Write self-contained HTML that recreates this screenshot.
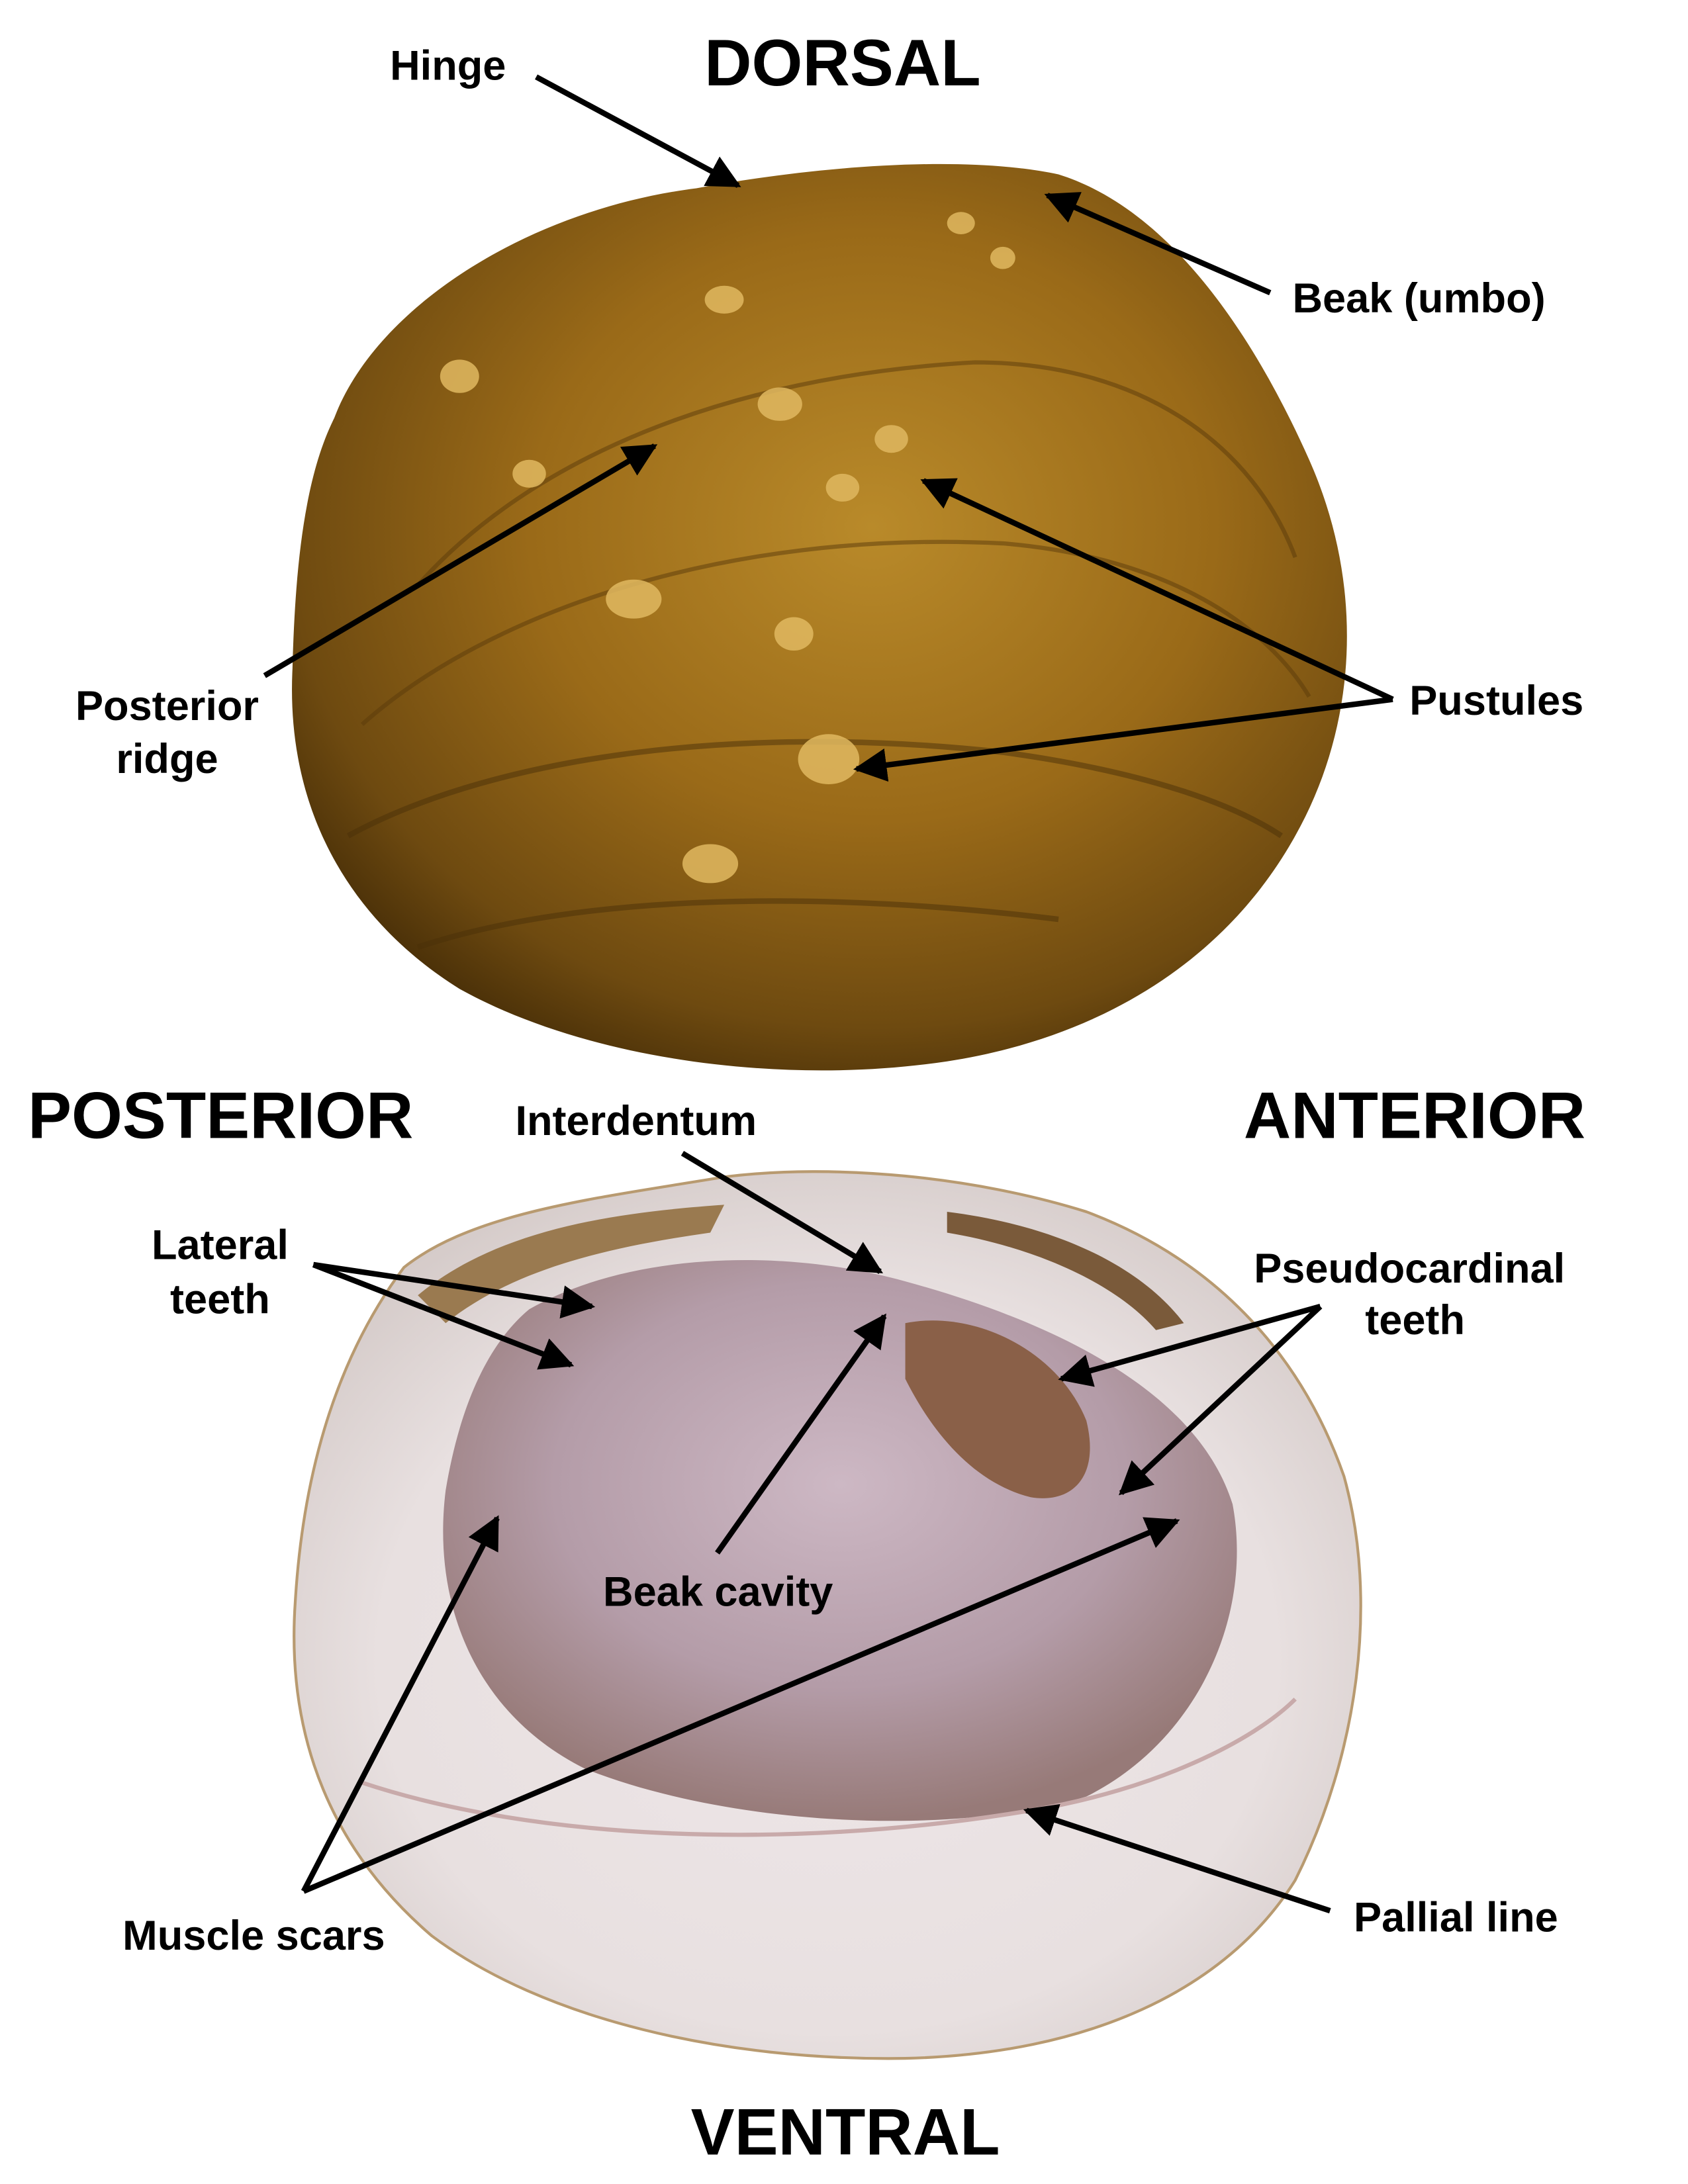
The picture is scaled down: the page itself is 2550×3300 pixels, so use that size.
<!DOCTYPE html>
<html><head><meta charset="utf-8"><style>
html,body{margin:0;padding:0;background:#fff;}
svg{display:block;}
text{font-family:"Liberation Sans",Arial,sans-serif;font-weight:bold;fill:#000;}
</style></head><body>
<svg width="2550" height="3300" viewBox="0 0 1212 1568" xmlns="http://www.w3.org/2000/svg">
<defs>
<radialGradient id="brown" cx="0.55" cy="0.4" r="0.65">
<stop offset="0" stop-color="#b98a2a"/>
<stop offset="0.5" stop-color="#9a6a18"/>
<stop offset="0.85" stop-color="#6e4a10"/>
<stop offset="1" stop-color="#4a3008"/>
</radialGradient>
<radialGradient id="pearl" cx="0.5" cy="0.55" r="0.6">
<stop offset="0" stop-color="#eee6e8"/>
<stop offset="0.7" stop-color="#e8e0e0"/>
<stop offset="1" stop-color="#d4cac8"/>
</radialGradient>
<radialGradient id="purple" cx="0.5" cy="0.4" r="0.6">
<stop offset="0" stop-color="#cdb8c4"/>
<stop offset="0.6" stop-color="#b49ca8"/>
<stop offset="1" stop-color="#977a78"/>
</radialGradient>
<marker id="ah" viewBox="0 0 10 10" refX="9" refY="5" markerWidth="6" markerHeight="6" orient="auto-start-reverse">
<path d="M0,0 L10,5 L0,10 z" fill="#000"/>
</marker>
</defs>
<rect width="1212" height="1568" fill="#fff"/>

<!-- top shell -->
<path d="M240,300 C270,220 380,150 500,135 C580,120 690,110 760,125 C840,150 900,240 940,330 C980,420 975,520 930,600 C880,690 790,745 680,762 C560,780 420,760 330,710 C250,660 205,580 210,480 C212,400 220,340 240,300 Z" fill="url(#brown)"/>
<path d="M300,420 C380,330 520,270 700,260 C820,260 900,320 930,400" fill="none" stroke="#5a3a0a" stroke-width="3" opacity="0.5"/>
<path d="M260,520 C350,440 520,380 720,390 C840,400 910,450 940,500" fill="none" stroke="#5a3a0a" stroke-width="3" opacity="0.5"/>
<path d="M250,600 C360,540 540,520 720,540 C830,555 890,580 920,600" fill="none" stroke="#4a3008" stroke-width="4" opacity="0.5"/>
<path d="M300,680 C420,640 600,640 760,660" fill="none" stroke="#4a3008" stroke-width="4" opacity="0.5"/>
<g fill="#e0b860" opacity="0.85">
<ellipse cx="520" cy="215" rx="14" ry="10"/><ellipse cx="560" cy="290" rx="16" ry="12"/>
<ellipse cx="640" cy="315" rx="12" ry="10"/><ellipse cx="605" cy="350" rx="12" ry="10"/>
<ellipse cx="455" cy="430" rx="20" ry="14"/><ellipse cx="570" cy="455" rx="14" ry="12"/>
<ellipse cx="595" cy="545" rx="22" ry="18"/><ellipse cx="510" cy="620" rx="20" ry="14"/>
<ellipse cx="690" cy="160" rx="10" ry="8"/><ellipse cx="720" cy="185" rx="9" ry="8"/>
<ellipse cx="330" cy="270" rx="14" ry="12"/><ellipse cx="380" cy="340" rx="12" ry="10"/>
</g>

<!-- bottom shell -->
<path d="M290,910 C340,870 430,860 520,845 C600,835 700,845 780,870 C860,900 930,960 965,1060 C990,1150 975,1260 930,1350 C880,1430 780,1475 650,1478 C520,1480 390,1450 310,1390 C240,1330 205,1250 212,1150 C218,1050 245,970 290,910 Z" fill="url(#pearl)" stroke="#b89a70" stroke-width="2"/>
<path d="M380,940 C450,900 560,895 650,920 C760,950 860,1000 885,1080 C900,1160 860,1250 780,1290 C680,1320 520,1310 420,1270 C340,1230 310,1150 320,1070 C330,1010 350,965 380,940 Z" fill="url(#purple)"/>
<path d="M650,950 C700,940 760,970 780,1020 C790,1060 770,1080 740,1075 C700,1065 670,1030 650,990 Z" fill="#8a6048"/>
<path d="M300,930 C360,880 450,870 520,865 L510,885 C440,895 370,910 320,950 Z" fill="#9a7a50"/>
<path d="M680,870 C760,880 820,910 850,950 L830,955 C800,920 740,895 680,885 Z" fill="#7a5a3a"/>
<path d="M260,1280 C380,1320 560,1330 740,1300 C830,1285 900,1250 930,1220" fill="none" stroke="#c8aaaa" stroke-width="3"/>

<!-- labels -->
<text x="605" y="61" font-size="47" text-anchor="middle">DORSAL</text>
<text x="280" y="57" font-size="30">Hinge</text>
<text x="928" y="224" font-size="30">Beak (umbo)</text>
<text x="120" y="517" font-size="30" text-anchor="middle">Posterior</text>
<text x="120" y="555" font-size="30" text-anchor="middle">ridge</text>
<text x="1012" y="513" font-size="30">Pustules</text>
<text x="20" y="817" font-size="47">POSTERIOR</text>
<text x="893" y="817" font-size="47">ANTERIOR</text>
<text x="370" y="815" font-size="30">Interdentum</text>
<text x="158" y="904" font-size="30" text-anchor="middle">Lateral</text>
<text x="158" y="943" font-size="30" text-anchor="middle">teeth</text>
<text x="1012" y="921" font-size="30" text-anchor="middle">Pseudocardinal</text>
<text x="1016" y="958" font-size="30" text-anchor="middle">teeth</text>
<text x="433" y="1153" font-size="30">Beak cavity</text>
<text x="88" y="1400" font-size="30">Muscle scars</text>
<text x="972" y="1387" font-size="30">Pallial line</text>
<text x="607" y="1547" font-size="47" text-anchor="middle">VENTRAL</text>

<!-- arrows -->
<g stroke="#000" stroke-width="4" fill="none" marker-end="url(#ah)">
<line x1="385" y1="55" x2="530" y2="133"/>
<line x1="912" y1="210" x2="752" y2="140"/>
<line x1="190" y1="485" x2="470" y2="320"/>
<line x1="1000" y1="502" x2="663" y2="345"/>
<line x1="1000" y1="502" x2="615" y2="552"/>
<line x1="490" y1="828" x2="632" y2="913"/>
<line x1="225" y1="908" x2="425" y2="938"/>
<line x1="225" y1="908" x2="410" y2="980"/>
<line x1="948" y1="938" x2="762" y2="990"/>
<line x1="948" y1="938" x2="805" y2="1072"/>
<line x1="515" y1="1115" x2="635" y2="945"/>
<line x1="218" y1="1358" x2="357" y2="1090"/>
<line x1="218" y1="1358" x2="845" y2="1092"/>
<line x1="955" y1="1372" x2="737" y2="1300"/>
</g>
</svg>
</body></html>
